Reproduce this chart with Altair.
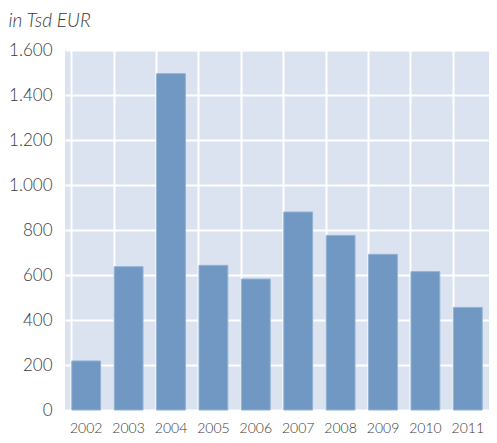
import altair as alt
import pandas as pd

years = ["2002", "2003", "2004", "2005", "2006", "2007", "2008", "2009", "2010", "2011"]
values = [218, 637, 1495, 643, 582, 880, 776, 692, 615, 456]

df = pd.DataFrame({"year": years, "value": values})

FONT = "Lato"

chart = alt.Chart(df).mark_bar(
    color="#7098c3", stroke="#93b2d4", strokeWidth=1
).encode(
    x=alt.X("year:N", sort=years, title=None,
            scale=alt.Scale(paddingInner=0.32, paddingOuter=0.16),
            axis=alt.Axis(labelAngle=0, labelFontSize=14, labelColor="#3a3a3a",
                          labelFont=FONT, labelFontWeight=300, labelPadding=11,
                          ticks=False, domain=False,
                          grid=True, bandPosition=0, gridColor="white", gridWidth=2)),
    y=alt.Y("value:Q", title=None,
            scale=alt.Scale(domain=[0, 1600], nice=False),
            axis=alt.Axis(values=[0, 200, 400, 600, 800, 1000, 1200, 1400, 1600],
                          labelExpr="replace(format(datum.value, ','), ',', '.')",
                          labelFontSize=17, labelColor="#3a3a3a", labelFont=FONT,
                          labelFontWeight=300,
                          labelPadding=13, ticks=False, domain=False,
                          gridColor="white", gridWidth=2)),
).properties(
    width=424, height=360,
    padding={"top": 4, "left": 0, "right": 0, "bottom": 0},
    title=alt.TitleParams("in Tsd EUR", anchor="start", frame="bounds",
                          fontSize=19, fontStyle="italic", fontWeight=300,
                          font=FONT, color="#3a3a3a", offset=12, dy=2),
).configure_view(fill="#dae3ef", stroke=None)

chart.save("out.html", embed_options={"renderer": "svg", "actions": False})
